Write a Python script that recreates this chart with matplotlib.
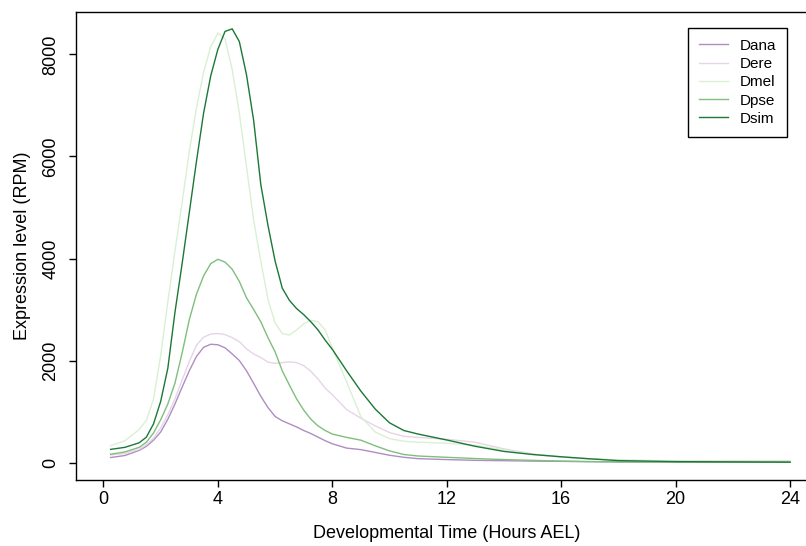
import matplotlib
matplotlib.use("Agg")
import matplotlib.pyplot as plt

plt.rcParams['font.family'] = ['Liberation Sans', 'DejaVu Sans']

# hours after egg laying
hours = [0.25, 0.75, 1.25,
         1.5, 1.75, 2.0, 2.25, 2.5, 2.75, 3.0, 3.25, 3.5, 3.75,
         4.0, 4.25, 4.5, 4.75, 5.0, 5.25, 5.5, 5.75, 6.0, 6.25,
         6.5, 6.75, 7.0, 7.25, 7.5, 7.75, 8.0,
         8.5, 9.0, 9.5, 10, 10.5, 11,
         12, 13, 14, 15, 16, 17, 18,
         20, 22, 24]

# expression (RPM)
dana = [100, 140, 240,
        320, 440, 600, 850, 1150, 1480, 1800, 2080, 2260, 2320,
        2310, 2250, 2130, 2000, 1800, 1554, 1300, 1080, 905, 820,
        760, 700, 630, 570, 500, 430, 370,
        285, 255, 200, 145, 105, 78,
        60, 45, 38, 30, 25, 20, 15,
        10, 10, 10]
dere = [150, 180, 260,
        350, 480, 680, 940, 1250, 1620, 1980, 2300, 2460, 2520,
        2530, 2510, 2450, 2370, 2230, 2130, 2060, 1970, 1945, 1960,
        1975, 1960, 1900, 1790, 1640, 1460, 1330,
        1040, 870, 720, 590, 515, 495,
        458, 400, 270, 170, 110, 75, 50,
        35, 35, 35]
dmel = [330, 430, 650,
        830, 1250, 2100, 3150, 4150, 5100, 6100, 6950, 7650, 8150,
        8420, 8300, 7700, 6850, 5800, 4750, 3950, 3200, 2740, 2530,
        2500, 2600, 2720, 2790, 2760, 2600, 2250,
        1580, 900, 600, 470, 420, 400,
        380, 340, 250, 160, 110, 75, 50,
        30, 25, 25]
dpse = [165, 210, 300,
        400, 580, 840, 1150, 1560, 2150, 2800, 3300, 3660, 3900,
        3985, 3930, 3790, 3550, 3230, 3000, 2760, 2450, 2170, 1800,
        1520, 1250, 1030, 850, 720, 630, 560,
        495, 440, 330, 230, 160, 130,
        105, 80, 60, 45, 30, 20, 15,
        10, 10, 10]
dsim = [260, 300, 390,
        500, 760, 1200, 1850, 2950, 3900, 4900, 5900, 6850, 7580,
        8100, 8450, 8500, 8250, 7600, 6706, 5450, 4650, 3950, 3420,
        3180, 3020, 2900, 2760, 2600, 2400, 2220,
        1800, 1400, 1050, 780, 630, 560,
        444, 320, 220, 160, 115, 75, 40,
        20, 15, 10]

species = ['Dana', 'Dere', 'Dmel', 'Dpse', 'Dsim']
colors = ['#af8dc3', '#e7d4e8', '#d9f0d3', '#7fbf7b', '#1b7837']

fig = plt.figure(figsize=(8.06, 5.46), dpi=100)
ax = fig.add_axes([76 / 806, 66 / 546, 741.5 / 806, 468.5 / 546])

for name, vals, col in zip(species, [dana, dere, dmel, dpse, dsim], colors):
    ax.plot(hours, vals, color=col, lw=1.0, label=name)

ax.set_xlim(-0.96, 24.96)
ax.set_ylim(-340, 8840)
ax.set_xticks([0, 4, 8, 12, 16, 20, 24])
ax.set_yticks([0, 2000, 4000, 6000, 8000])
ax.set_yticklabels(['0', '2000', '4000', '6000', '8000'], rotation=90, va='center')
ax.tick_params(direction='out', length=5, width=1, labelsize=13, colors='black')
ax.tick_params(axis='x', pad=3)
ax.tick_params(axis='y', pad=7)
ax.spines['right'].set_visible(False)
for s in ['left', 'bottom', 'top']:
    ax.spines[s].set_linewidth(1.0)

ax.set_xlabel('Developmental Time (Hours AEL)', fontsize=13, labelpad=12)
ax.set_ylabel('Expression level (RPM)', fontsize=13, labelpad=8)

leg = ax.legend(loc='upper right', bbox_to_anchor=(787 / 806, 1 - 28 / 546),
                bbox_transform=fig.transFigure, fontsize=11, frameon=True,
                fancybox=False, edgecolor='black', framealpha=1,
                handlelength=1.9, handletextpad=0.8, labelspacing=0.28,
                borderpad=0.7, borderaxespad=0)
leg.get_frame().set_linewidth(1.0)

fig.savefig('out.png', dpi=100)
